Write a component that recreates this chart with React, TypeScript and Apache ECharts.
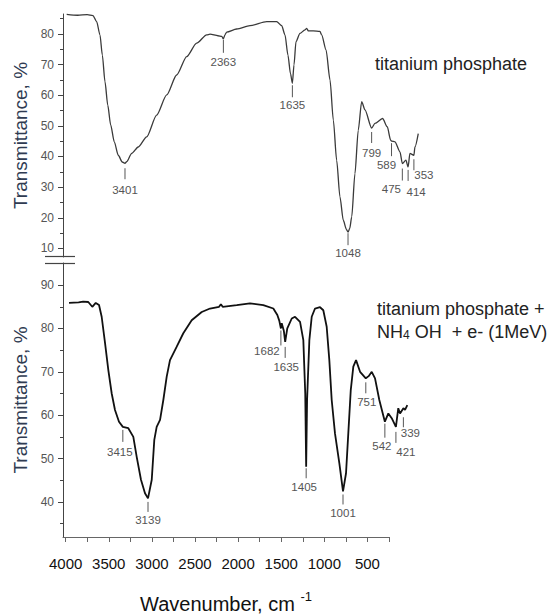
import React, { useEffect, useRef } from 'react';
import * as echarts from 'echarts';

// ---------- data ----------
const topWavenumbers = [
  4016, 3900, 3800, 3739, 3700, 3665, 3640, 3612, 3583, 3552, 3514, 3472, 3430, 3401, 3383, 3330,
  3261, 3172, 3067, 2961, 2856, 2750, 2645, 2539, 2504, 2420, 2380, 2363, 2345, 2328, 2223, 2082,
  1906, 1801, 1748, 1713, 1682, 1655, 1635, 1618, 1597, 1555, 1502, 1484, 1467, 1415, 1344, 1326,
  1280, 1238, 1203, 1168, 1133, 1098, 1065, 1048, 1030, 1009, 975, 940, 904, 869, 799, 764, 683,
  634, 598, 589, 553, 500, 475, 437, 414, 395, 353, 342, 307,
];
const topTransmittance = [
  86.4, 86.1, 86.3, 86.0, 84.0, 79.7, 73.1, 64.4, 56.8, 50.3, 44.8, 40.4, 38.2, 37.8, 38.3, 41.0,
  43.1, 46.4, 53.5, 60.1, 66.6, 72.6, 77.0, 79.7, 79.9, 79.4, 79.2, 78.4, 79.8, 80.6, 81.6, 82.7,
  84.0, 84.0, 82.7, 79.7, 73.1, 67.0, 63.9, 69.9, 77.5, 80.2, 81.3, 81.8, 81.0, 81.0, 80.8, 79.7,
  74.8, 65.0, 51.9, 38.8, 26.8, 19.2, 16.2, 15.3, 16.5, 20.3, 34.4, 48.6, 57.9, 55.2, 49.3, 50.8, 52.4,
  49.7, 45.3, 45.0, 44.8, 41.5, 37.7, 38.8, 36.6, 41.0, 40.4, 43.1, 47.5,
];

const bottomWavenumbers = [
  4005, 3900, 3850, 3794, 3750, 3712, 3676, 3647, 3610, 3574, 3537, 3501, 3457, 3415, 3355, 3300,
  3263, 3216, 3172, 3139, 3098, 3070, 3044, 3007, 2971, 2934, 2898, 2824, 2752, 2660, 2550, 2459,
  2360, 2340, 2320, 2166, 2021, 1875, 1765, 1721, 1700, 1682, 1673, 1650, 1635, 1612, 1563, 1527,
  1472, 1436, 1415, 1405, 1395, 1370, 1344, 1308, 1253, 1217, 1180, 1151, 1125, 1089, 1041, 1001,
  968, 943, 916, 888, 858, 814, 751, 720, 686, 650, 603, 542, 504, 467, 421, 395, 376, 339, 321, 296,
];
const bottomTransmittance = [
  85.9, 86.0, 86.2, 86.1, 85.0, 85.9, 85.4, 82.7, 76.6, 70.4, 65.0, 61.2, 58.5, 57.3, 57.0, 55.0,
  50.4, 45.1, 42.0, 40.8, 45.1, 54.3, 57.3, 58.9, 63.5, 68.9, 72.7, 75.8, 78.9, 81.9, 83.8, 84.6,
  85.0, 85.6, 85.0, 85.4, 85.8, 85.4, 84.6, 83.1, 81.8, 80.0, 81.2, 79.5, 76.9, 80.0, 82.3, 82.7,
  81.5, 77.3, 65.0, 48.1, 63.5, 77.3, 82.7, 84.6, 84.9, 84.2, 80.4, 72.7, 63.5, 55.8, 48.9, 42.4,
  46.6, 55.8, 65.8, 71.2, 72.7, 70.0, 68.5, 69.0, 70.0, 68.5, 63.5, 58.5, 60.4, 59.3, 57.3, 61.6, 60.4, 61.6, 61.2, 62.3,
];

const topPeaks = [3401, 2363, 1635, 1048, 799, 589, 475, 414, 353];
const bottomPeaks = [3415, 3139, 1682, 1635, 1405, 1001, 751, 542, 421, 339];

const xTickValues = [250, 500, 750, 1000, 1250, 1500, 1750, 2000, 2250, 2500, 2750, 3000, 3250, 3500, 3750, 4000];
const xLabelValues = [500, 1000, 1500, 2000, 2500, 3000, 3500, 4000];
const topYMajor = [10, 20, 30, 40, 50, 60, 70, 80];
const topYMinor = [15, 25, 35, 45, 55, 65, 75, 85];
const bottomYMajor = [40, 50, 60, 70, 80, 90];
const bottomYMinor = [35, 45, 55, 65, 75, 85];

// ---------- layout of peak markers: [gap below curve, tick length, label dx, label dy] (px) ----------
const topPeakLayout = [
  [5, 11, 0, 11],
  [1, 13, 0, 9],
  [2, 12, 0, 8],
  [1, 12, 0, 8],
  [4, 11, 0, 10],
  [2, 13, -5, 9],
  [5, 12, -11, 8],
  [3, 11, 8, 11],
  [4, 11, 10, 5],
];
const bottomPeakLayout = [
  [3, 12, -3, 10],
  [3.5, 10, 0, 8],
  [2, 15, -14, 6],
  [5, 11, 1, 9],
  [1.5, 10, -2, 9],
  [3, 10, 0, 9],
  [4, 11, 1, 9],
  [2, 14, -3, 8],
  [5, 11, 10, 9],
  [9, 10, 7, 6],
];

const FONT = '"Liberation Sans", Arial, sans-serif';

function valueAt(ws: number[], ts: number[], w: number): number {
  for (let i = 0; i < ws.length - 1; i++) {
    const a = ws[i];
    const b = ws[i + 1];
    if (w <= a && w >= b) {
      const t = a === b ? 0 : (a - w) / (a - b);
      return ts[i] + (ts[i + 1] - ts[i]) * t;
    }
  }
  return ts[ts.length - 1];
}

function makeRender(layout: number[][]) {
  return (params: any, api: any) => {
    const w = api.value(0);
    const v = api.value(1);
    const [gap, len, dx, dy] = layout[params.dataIndex];
    const p = api.coord([w, v]);
    const y1 = p[1] + gap;
    const y2 = y1 + len;
    return {
      type: 'group',
      children: [
        {
          type: 'line',
          shape: { x1: p[0], y1, x2: p[0], y2 },
          style: { stroke: '#555', lineWidth: 1 },
        },
        {
          type: 'text',
          x: p[0] + dx,
          y: y2 + dy,
          style: {
            text: String(w),
            fill: '#555',
            font: `11.5px ${FONT}`,
            align: 'center',
            verticalAlign: 'middle',
          },
        },
      ],
    };
  };
}

export default function App() {
  const ref = useRef<HTMLDivElement>(null);

  useEffect(() => {
    if (!ref.current) return;
    const chart = echarts.init(ref.current, undefined, { renderer: 'svg' });

    const yMajorCommon = {
      axisLine: { show: true, lineStyle: { color: '#444', width: 1 } },
      axisTick: { show: true, length: 5, lineStyle: { color: '#444' } },
      axisLabel: { show: true, color: '#555', fontSize: 12, fontFamily: FONT, margin: 9 },
      splitLine: { show: false },
      nameLocation: 'middle' as const,
      nameRotate: 90,
      nameGap: 31,
      nameTextStyle: { color: '#2f3b52', fontSize: 19, fontFamily: FONT },
      name: 'Transmittance, %',
      position: 'left' as const,
    };
    const yMinorCommon = {
      position: 'left' as const,
      axisLine: { show: false },
      axisTick: { show: true, length: 3, lineStyle: { color: '#444' } },
      axisLabel: { show: false },
      splitLine: { show: false },
    };

    const option: any = {
      animation: false,
      backgroundColor: '#fff',
      grid: [
        // spectrum panels (wider than the drawn axis so the traces can run past its end)
        { left: 63, top: 14, width: 360, height: 243 },
        { left: 63, top: 263, width: 360, height: 274 },
        // the visible wavenumber axis
        { left: 63, top: 263, width: 326, height: 274 },
      ],
      xAxis: [
        { gridIndex: 0, type: 'value', min: 257, max: 4055, inverse: true, show: false },
        { gridIndex: 1, type: 'value', min: 124, max: 4071, inverse: true, show: false },
        {
          gridIndex: 2,
          type: 'value',
          min: 250,
          max: 4031,
          inverse: true,
          position: 'bottom',
          axisLine: { show: true, lineStyle: { color: '#666', width: 1 } },
          axisTick: { show: true, length: 5, customValues: xTickValues, lineStyle: { color: '#666' } },
          axisLabel: {
            show: true,
            customValues: xLabelValues,
            formatter: (v: number) => String(v),
            color: '#111',
            fontSize: 15,
            fontFamily: FONT,
            margin: 19,
          },
          splitLine: { show: false },
          name: '{a|Wavenumber, cm }{b|-1}',
          nameLocation: 'middle',
          nameGap: 53,
          nameTextStyle: {
            rich: {
              a: { fontSize: 20, fontFamily: FONT, color: '#111', lineHeight: 24, verticalAlign: 'bottom' },
              b: { fontSize: 13, fontFamily: FONT, color: '#111', lineHeight: 24, verticalAlign: 'top' },
            },
          },
        },
      ],
      yAxis: [
        {
          ...yMajorCommon,
          gridIndex: 0,
          type: 'value',
          min: 7.2,
          max: 86.5,
          axisTick: { ...yMajorCommon.axisTick, customValues: topYMajor },
          axisLabel: { ...yMajorCommon.axisLabel, customValues: topYMajor },
        },
        {
          ...yMinorCommon,
          gridIndex: 0,
          type: 'value',
          min: 7.2,
          max: 86.5,
          axisTick: { ...yMinorCommon.axisTick, customValues: topYMinor },
        },
        {
          ...yMajorCommon,
          gridIndex: 1,
          type: 'value',
          min: 31.9,
          max: 95.1,
          axisTick: { ...yMajorCommon.axisTick, customValues: bottomYMajor },
          axisLabel: { ...yMajorCommon.axisLabel, customValues: bottomYMajor },
        },
        {
          ...yMinorCommon,
          gridIndex: 1,
          type: 'value',
          min: 31.9,
          max: 95.1,
          axisTick: { ...yMinorCommon.axisTick, customValues: bottomYMinor },
        },
        { gridIndex: 2, type: 'value', min: 0, max: 1, show: false },
      ],
      series: [
        {
          type: 'line',
          xAxisIndex: 0,
          yAxisIndex: 0,
          data: topWavenumbers.map((w, i) => [w, topTransmittance[i]]),
          showSymbol: false,
          clip: false,
          smooth: 0.25,
          smoothMonotone: 'x',
          lineStyle: { color: '#3a3a3a', width: 1.3 },
          silent: true,
        },
        {
          type: 'line',
          xAxisIndex: 1,
          yAxisIndex: 2,
          data: bottomWavenumbers.map((w, i) => [w, bottomTransmittance[i]]),
          showSymbol: false,
          clip: false,
          lineStyle: { color: '#111', width: 1.8 },
          silent: true,
        },
        {
          type: 'custom',
          xAxisIndex: 0,
          yAxisIndex: 0,
          clip: false,
          silent: true,
          data: topPeaks.map((w) => [w, valueAt(topWavenumbers, topTransmittance, w)]),
          encode: { x: 0, y: 1 },
          renderItem: makeRender(topPeakLayout),
        },
        {
          type: 'custom',
          xAxisIndex: 1,
          yAxisIndex: 2,
          clip: false,
          silent: true,
          data: bottomPeaks.map((w) => [w, valueAt(bottomWavenumbers, bottomTransmittance, w)]),
          encode: { x: 0, y: 1 },
          renderItem: makeRender(bottomPeakLayout),
        },
      ],
      graphic: [
        { type: 'line', shape: { x1: 45, y1: 256.5, x2: 75, y2: 256.5 }, style: { stroke: '#444', lineWidth: 1.2 } },
        { type: 'line', shape: { x1: 45, y1: 263.5, x2: 75, y2: 263.5 }, style: { stroke: '#444', lineWidth: 1.2 } },
        {
          type: 'text',
          left: 375,
          top: 55,
          style: { text: 'titanium phosphate', font: `18px ${FONT}`, fill: '#222' },
        },
        {
          type: 'text',
          left: 377,
          top: 300,
          style: { text: 'titanium phosphate +', font: `18px ${FONT}`, fill: '#222' },
        },
        {
          type: 'text',
          left: 377,
          top: 323,
          style: {
            text: '{n|NH}{s|4}{n| OH  + e- (1MeV)}',
            rich: {
              n: { fontSize: 18, fontFamily: FONT, fill: '#222', lineHeight: 22, verticalAlign: 'bottom' },
              s: { fontSize: 12, fontFamily: FONT, fill: '#222', lineHeight: 22, verticalAlign: 'bottom' },
            },
          },
        },
      ],
    };

    chart.setOption(option);
    return () => chart.dispose();
  }, []);

  return (
    <div
      ref={ref}
      style={{ position: 'absolute', left: 0, top: 0, width: 553, height: 616, background: '#fff' }}
    />
  );
}
